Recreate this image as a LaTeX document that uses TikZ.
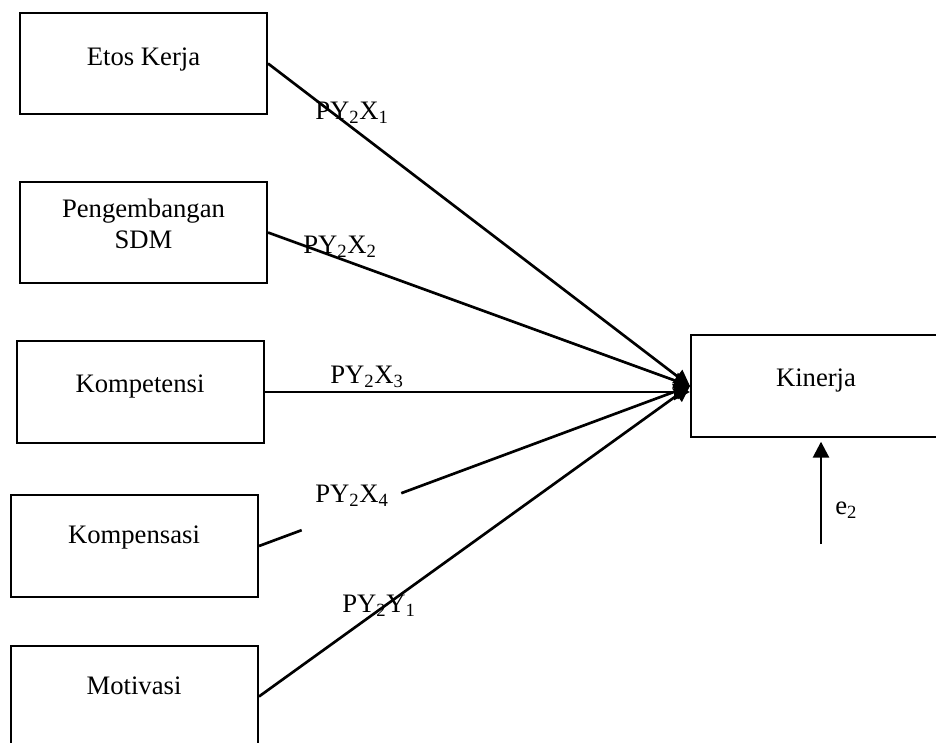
\documentclass[tikz,border=0pt]{standalone}
\usepackage{fontspec}
\setmainfont{Liberation Serif}
\usetikzlibrary{arrows.meta,calc}
\tikzset{
  varbox/.style={draw, line width=1.5pt, minimum width=185.25pt, minimum height=76pt, inner sep=0pt},
  vartext/.style={font=\fontsize{20}{23.25}\selectfont, inner sep=0pt, align=center},
  pathlbl/.style={font=\fontsize{20}{23.25}\selectfont, inner sep=0pt, anchor=base west},
  conn/.style={line width=2pt, -{Triangle[length=12pt,width=12pt]}},
  plain/.style={line width=2pt}
}
\begin{document}
\begin{tikzpicture}[x=0.75pt,y=-0.75pt]
\useasboundingbox (0,0) rectangle (936,743);
% boxes
\node[varbox] (etos)  at (143.5,63.5) {};
\node[varbox] (peng)  at (143.5,232.5) {};
\node[varbox] (kompt) at (140,392) {};
\node[varbox] (kompn) at (134.5,546) {};
\node[varbox] (motiv) at (134.5,696.5) {};
\node[varbox] (kin)   at (814.5,386) {};
% box texts
\node[vartext, anchor=base] (tetos) at (143.5,65) {Etos Kerja};
\node[vartext, anchor=base] (tpeng1) at (143.5,217) {Pengembangan};
\node[vartext, anchor=base] (tpeng2) at (143.5,248) {SDM};
\node[vartext, anchor=base] (tkompt) at (140,392) {Kompetensi};
\node[vartext, anchor=base] (tkompn) at (134,543) {Kompensasi};
\node[vartext, anchor=base] (tmotiv) at (134,694) {Motivasi};
\node[vartext, anchor=base] (tkin) at (816,386) {Kinerja};
% connectors
\draw[conn] (etos.east) -- (kin.west);
\draw[conn] (peng.east) -- (kin.west);
\draw[conn] (kompt.east) -- (kompt.east -| kin.west);
\draw[plain] (kompn.east) -- ($(kompn.east)!0.099!(kin.west)$);
\draw[conn] ($(kompn.east)!0.33!(kin.west)$) -- (kin.west);
\draw[conn] (motiv.east) -- (kin.west);
% path labels
\node[pathlbl] (l1) at (315,119) {PY\textsubscript{2}X\textsubscript{1}};
\node[pathlbl] (l2) at (303,253) {PY\textsubscript{2}X\textsubscript{2}};
\node[pathlbl] (l3) at (330,383) {PY\textsubscript{2}X\textsubscript{3}};
\node[pathlbl] (l4) at (315,502) {PY\textsubscript{2}X\textsubscript{4}};
\node[pathlbl] (l5) at (342,612) {PY\textsubscript{2}Y\textsubscript{1}};
% error term
\coordinate (e2s) at (821,544);
\draw[conn, shorten >=3pt] (e2s) -- (e2s |- kin.south);
\node[pathlbl] (le2) at (835,514) {e\textsubscript{2}};
\end{tikzpicture}
\end{document}
